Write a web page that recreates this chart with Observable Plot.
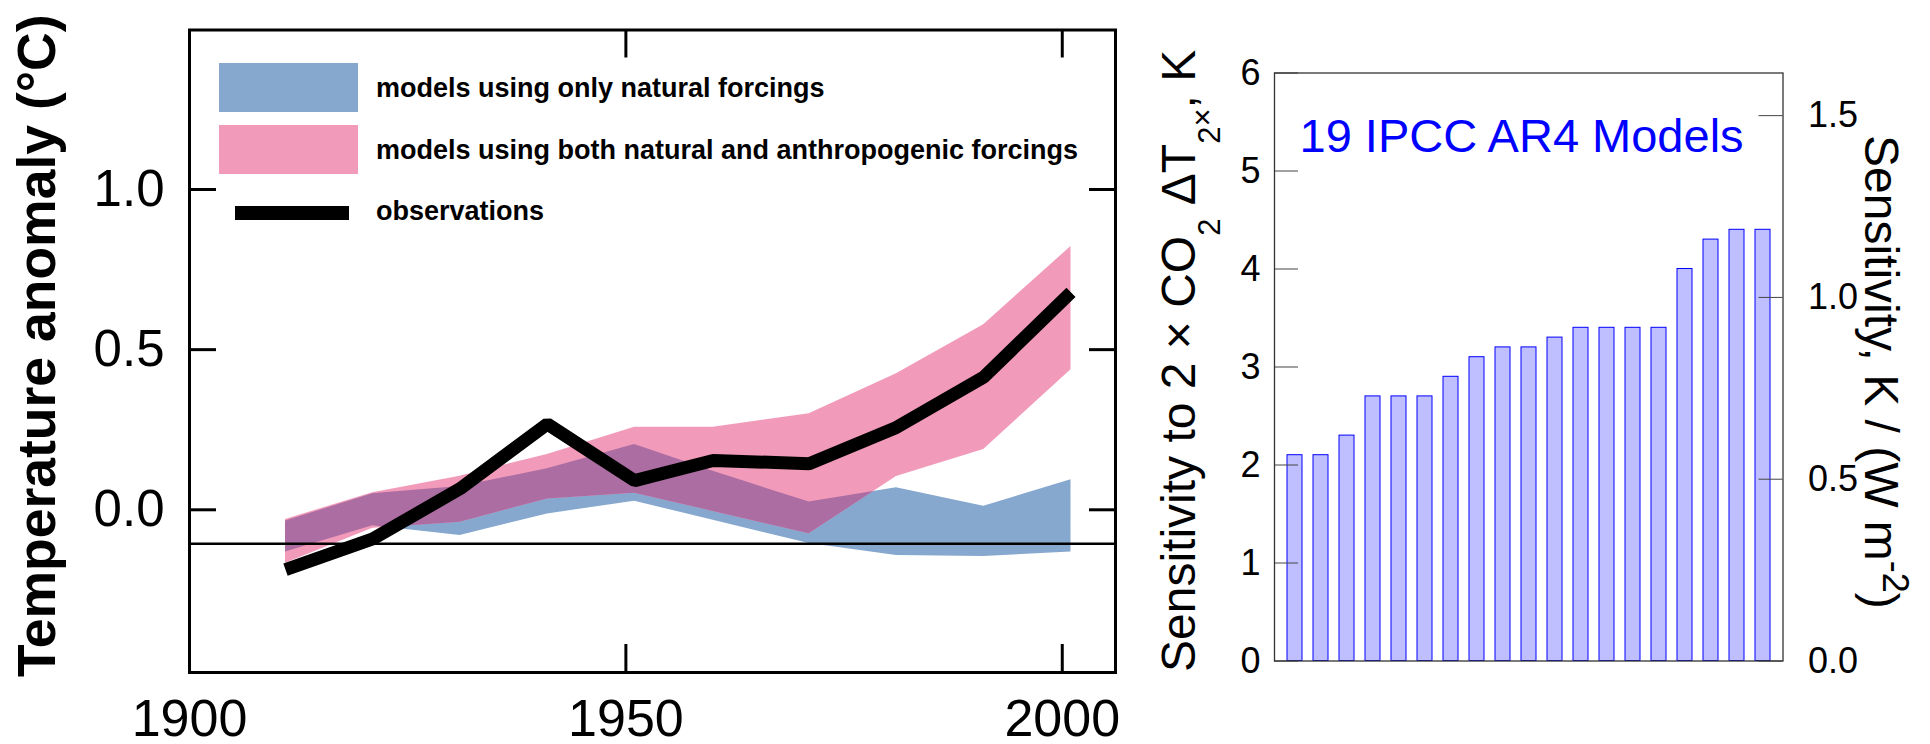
<!DOCTYPE html>
<html>
<head>
<meta charset="utf-8">
<script src="https://cdn.jsdelivr.net/npm/d3@7"></script>
<script src="https://cdn.jsdelivr.net/npm/@observablehq/plot@0.6"></script>
<style>
  html, body { margin: 0; padding: 0; background: #fff; }
  #fig { position: relative; width: 1930px; height: 744px; overflow: hidden; }
  #left { position: absolute; left: 0; top: 0; }
  #right { position: absolute; left: 1130px; top: 0; }
  svg text { font-family: "Liberation Sans", Arial, Helvetica, sans-serif; }
</style>
</head>
<body>
<div id="fig"><div id="left"></div><div id="right"></div></div>
<script>
// ---- Temperature anomaly panel: decadal model ranges and observations ----
const years = [1911, 1921, 1931, 1941, 1951, 1960, 1971, 1981, 1991, 2001];
const naturalLow  = [-0.132, -0.050, -0.080, -0.013, 0.027, -0.033, -0.105, -0.143, -0.146, -0.132];
const naturalHigh = [-0.035,  0.050,  0.073,  0.128, 0.204,  0.120,  0.024,  0.069,  0.011,  0.094];
const anthroLow   = [-0.167, -0.058, -0.039,  0.034, 0.052, -0.005, -0.075,  0.104,  0.188,  0.437];
const anthroHigh  = [-0.030,  0.053,  0.105,  0.173, 0.258,  0.258,  0.300,  0.425,  0.578,  0.822];
const observed    = [-0.187, -0.091,  0.066,  0.268, 0.091,  0.154,  0.144,  0.257,  0.414,  0.679];
const referenceLevel = -0.106;
const yearTicks = [1900, 1950, 2000];
const anomalyTicks = [0, 0.5, 1.0];
const legendLabels = [
  "models using only natural forcings",
  "models using both natural and anthropogenic forcings",
  "observations"
];

// ---- Climate sensitivity panel: 19 IPCC AR4 models, sorted ----
const sensitivityK = [2.1, 2.1, 2.3, 2.7, 2.7, 2.7, 2.9, 3.1, 3.2, 3.2, 3.3, 3.4, 3.4, 3.4, 3.4, 4.0, 4.3, 4.4, 4.4];
const kelvinTicks = [0, 1, 2, 3, 4, 5, 6];
const perForcingTicks = [0.0, 0.5, 1.0, 1.5];
const forcing2xCO2 = 3.71; // W m^-2 for a doubling of CO2

const colors = { natural: "#86a8cf", anthro: "#f29ab9", both: "#ac6da2" };

const rows = years.map((year, i) => ({
  year, nLo: naturalLow[i], nHi: naturalHigh[i], aLo: anthroLow[i], aHi: anthroHigh[i], obs: observed[i]
}));

// Region where both model ranges overlap, with exact edge crossings per segment
const overlap = [];
for (let i = 0; i < years.length - 1; i++) {
  const fs = [0, 1];
  const pairs = [[naturalLow, anthroLow], [naturalHigh, anthroHigh], [naturalLow, anthroHigh], [anthroLow, naturalHigh]];
  for (const [a, b] of pairs) {
    const d0 = a[i] - b[i], d1 = a[i + 1] - b[i + 1];
    if (d0 * d1 < 0) fs.push(d0 / (d0 - d1));
  }
  fs.sort((p, q) => p - q);
  for (const f of fs) {
    if (i > 0 && f === 0) continue;
    const lerp = arr => arr[i] + f * (arr[i + 1] - arr[i]);
    const lo = Math.max(lerp(naturalLow), lerp(anthroLow));
    const hi = Math.min(lerp(naturalHigh), lerp(anthroHigh));
    overlap.push({ year: years[i] + f * (years[i + 1] - years[i]), lo, hi: Math.max(lo, hi) });
  }
}

const L = { width: 1130, height: 744, left: 189, right: 15, top: 29.5, bottom: 72 };
const LW = L.width - L.left - L.right, LH = L.height - L.top - L.bottom;

const leftPlot = Plot.plot({
  width: L.width, height: L.height,
  marginLeft: L.left, marginRight: L.right, marginTop: L.top, marginBottom: L.bottom,
  x: { domain: [1900, 2006.1] },
  y: { domain: [-0.508, 1.498] },
  style: { fontFamily: "'Liberation Sans', Arial, sans-serif", color: "#000", background: "transparent", overflow: "visible" },
  marks: [
    Plot.areaY(rows, { x: "year", y1: "nLo", y2: "nHi", fill: colors.natural, curve: "linear" }),
    Plot.areaY(rows, { x: "year", y1: "aLo", y2: "aHi", fill: colors.anthro, curve: "linear" }),
    Plot.areaY(overlap, { x: "year", y1: "lo", y2: "hi", fill: colors.both, curve: "linear" }),
    Plot.ruleY([referenceLevel], { stroke: "#000", strokeWidth: 2.5 }),
    Plot.line(rows, { x: "year", y: "obs", stroke: "#000", strokeWidth: 13, strokeLinecap: "butt", strokeLinejoin: "miter", curve: "linear" }),
    Plot.ruleY(anomalyTicks, { stroke: "#000", strokeWidth: 3, insetRight: LW - 27 }),
    Plot.ruleY(anomalyTicks, { stroke: "#000", strokeWidth: 3, insetLeft: LW - 26 }),
    Plot.ruleX(yearTicks, { stroke: "#000", strokeWidth: 3, insetTop: LH - 28 }),
    Plot.ruleX(yearTicks, { stroke: "#000", strokeWidth: 3, insetBottom: LH - 28 }),
    Plot.axisY({ ticks: anomalyTicks, tickFormat: d3.format(".1f"), tickSize: 0, tickPadding: 25, fontSize: 51, label: null }),
    Plot.axisX({ ticks: yearTicks, tickFormat: d => String(d), tickSize: 0, tickPadding: 27, fontSize: 52, label: null }),
    Plot.frame({ stroke: "#000", strokeWidth: 3 })
  ]
});
document.getElementById("left").append(leftPlot);

// Legend and axis title of the temperature panel
{
  const svg = d3.select(leftPlot);
  const g = svg.append("g").attr("text-anchor", "start");
  g.append("rect").attr("x", 219).attr("y", 63).attr("width", 139).attr("height", 49).attr("fill", colors.natural);
  g.append("rect").attr("x", 219).attr("y", 125).attr("width", 139).attr("height", 49).attr("fill", colors.anthro);
  g.append("line").attr("x1", 235).attr("x2", 349).attr("y1", 213).attr("y2", 213).attr("stroke", "#000").attr("stroke-width", 14);
  [97, 158.5, 220].forEach((y, i) => {
    g.append("text").attr("x", 376).attr("y", y).attr("text-anchor", "start")
      .attr("font-size", 27).attr("font-weight", "bold").attr("fill", "#000").text(legendLabels[i]);
  });
  svg.append("text")
    .attr("transform", "translate(55,677) rotate(-90)").attr("text-anchor", "start")
    .attr("font-size", 53.5).attr("font-weight", "bold").attr("fill", "#000")
    .text("Temperature anomaly (°C)");
}

const R = { width: 800, height: 744, left: 144, right: 147.5, top: 72.5, bottom: 83.5 };
const RW = R.width - R.left - R.right;

const rightPlot = Plot.plot({
  width: R.width, height: R.height,
  marginLeft: R.left, marginRight: R.right, marginTop: R.top, marginBottom: R.bottom,
  x: { type: "band", domain: d3.range(sensitivityK.length), paddingInner: 0.43, paddingOuter: 0.2, axis: null },
  y: { domain: [0, 6] },
  style: { fontFamily: "'Liberation Sans', Arial, sans-serif", color: "#000", background: "transparent", overflow: "visible" },
  marks: [
    Plot.barY(sensitivityK, { x: (d, i) => i, y: d => d, fill: "#bfbfff", stroke: "#0000ff", strokeWidth: 1 }),
    Plot.ruleY(kelvinTicks, { stroke: "#444", strokeWidth: 1, insetRight: RW - 24 }),
    Plot.ruleY(perForcingTicks.map(v => v * forcing2xCO2), { stroke: "#444", strokeWidth: 1, insetLeft: RW - 24 }),
    Plot.axisY({ ticks: kelvinTicks, tickFormat: d3.format("d"), tickSize: 0, tickPadding: 14, fontSize: 36, label: null }),
    Plot.axisY({ anchor: "right", ticks: perForcingTicks.map(v => v * forcing2xCO2), tickFormat: d => (d / forcing2xCO2).toFixed(1), tickSize: 0, tickPadding: 25, fontSize: 36, label: null }),
    Plot.text(["19 IPCC AR4 Models"], { frameAnchor: "top-left", textAnchor: "start", lineAnchor: "top", dx: 25, dy: 46, fill: "#0000ff", fontSize: 47 }),
    Plot.frame({ stroke: "#333", strokeWidth: 1.3 })
  ]
});
document.getElementById("right").append(rightPlot);

// Axis titles with sub- and superscripts for the sensitivity panel
{
  const svg = d3.select(rightPlot);
  const t = svg.append("text").attr("transform", "translate(65,672) rotate(-90)")
    .attr("text-anchor", "start").attr("font-size", 48).attr("fill", "#000");
  t.append("tspan").text("Sensitivity to 2 × CO");
  t.append("tspan").attr("font-size", 31).attr("dy", 25).text("2");
  t.append("tspan").attr("dy", -25).text(" ΔT");
  t.append("tspan").attr("font-size", 31).attr("dy", 25).text("2");
  t.append("tspan").attr("font-size", 31).attr("dy", -7.5).text("×");
  t.append("tspan").attr("dy", -17.5).text(", K");

  const r = svg.append("text").attr("transform", "translate(735,135) rotate(90)")
    .attr("text-anchor", "start").attr("font-size", 48).attr("fill", "#000");
  r.append("tspan").text("Sensitivity, K / (W m");
  r.append("tspan").attr("font-size", 36).attr("dy", -18).text("-2");
  r.append("tspan").attr("dy", 18).text(")");
}
</script>
</body>
</html>
